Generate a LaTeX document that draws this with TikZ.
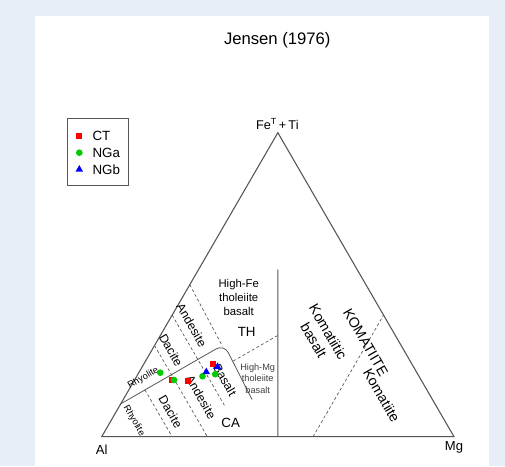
\documentclass[tikz,border=0pt]{standalone}
\usepackage{fontspec}
\setmainfont{Liberation Sans}
\usetikzlibrary{shapes.geometric}
\usepackage{xcolor}

\definecolor{panelblue}{HTML}{E8EEF8}
\definecolor{ptgreen}{HTML}{00CC00}
\definecolor{linegray}{HTML}{555555}

\tikzset{
  edge/.style={draw=linegray, line width=0.8pt},
  divide/.style={draw=linegray, line width=0.5pt, dash pattern=on 2.2pt off 1.8pt},
  field/.style={inner sep=0pt, align=center, font=\fontsize{9.2}{10}\selectfont},
  smallfield/.style={inner sep=0pt, align=center, font=\fontsize{7}{8}\selectfont},
  ctmark/.style={rectangle, fill=red, minimum size=4.6pt, inner sep=0pt},
  ngamark/.style={circle, fill=ptgreen, minimum size=5pt, inner sep=0pt},
  ngbmark/.style={regular polygon, regular polygon sides=3, fill=blue, minimum size=6.6pt, inner sep=0pt}
}

\begin{document}
\begin{tikzpicture}[x=0.75pt, y=-0.75pt]
    % Background and panel
    \useasboundingbox (0,0) rectangle (505,466);
    \fill[panelblue] (0,0) rectangle (505,466);
    \fill[white] (35,16) rectangle (489,466);

    % Title
    \node[font=\fontsize{12.5}{14}\selectfont] (title) at (277.3,40) {Jensen (1976)};

    % Corners of the ternary
    \coordinate (Al) at (101.7,436.7);
    \coordinate (Mg) at (454,436.7);
    \coordinate (Fe) at (277.85,132.7);
    \draw[edge, line join=miter] (Al) -- (Fe) -- (Mg) -- cycle;

    \node[font=\fontsize{9.5}{11}\selectfont, anchor=base] (feLab) at (277.3,129.5) {Fe\textsuperscript{T}\,+\,Ti};
    \node[font=\fontsize{9.8}{11}\selectfont] (alLab) at (101.7,449.3) {Al};
    \node[font=\fontsize{9.8}{11}\selectfont] (mgLab) at (454,447.7) {Mg};

    % CA / TH boundary
    \coordinate (caL) at (120,404.3);
    \coordinate (caP) at (224.1,344.3);
    \coordinate (caR) at (252,399.5);
    \draw[edge, line width=0.6pt, rounded corners=7pt] (caL) -- (caP) -- (caR);

    % Komatiite divide (Al = Mg)
    \coordinate (kbBot) at (barycentric cs:Al=0.5,Mg=0.5);
    \coordinate (kbTop) at (barycentric cs:Al=0.225,Fe=0.55,Mg=0.225);
    \draw[edge, line width=0.6pt] (kbBot) -- (kbTop);

    % Dashed field lines
    \coordinate (al80) at (144.9,389.9);
    \coordinate (al50) at (222.5,346.3);
    \coordinate (femg) at (233.3,361);
    \draw[divide] (al80) -- (barycentric cs:Al=0.8,Mg=0.2);
    \draw[divide] (barycentric cs:Al=0.7,Fe=0.3) -- (barycentric cs:Al=0.7,Mg=0.3);
    \draw[divide] (barycentric cs:Al=0.6,Fe=0.4) -- (barycentric cs:Al=0.6,Fe=0.1,Mg=0.3);
    \draw[divide] (barycentric cs:Al=0.5,Fe=0.5) -- (al50);
    \draw[divide] (femg) -- (barycentric cs:Al=1,Fe=1,Mg=1);
    \draw[divide] (barycentric cs:Al=0.4,Mg=0.6) -- (barycentric cs:Fe=0.4,Mg=0.6);

    % Field names
    \node[field, font=\fontsize{8.5}{10.6}\selectfont] (hft) at (238.7,297.5) {High-Fe\\tholeiite\\basalt};
    \node[field, font=\fontsize{10}{11}\selectfont] (th) at (246.7,332.3) {TH};
    \node[field, font=\fontsize{10}{11}\selectfont] (ca) at (230.7,422.7) {CA};
    \node[field, font=\fontsize{6.9}{8.6}\selectfont, text=black!75] (hmt) at (257.7,378.3) {High-Mg\\tholeiite\\basalt};
    \node[smallfield, rotate=30] (thRhy) at (143.3,378.3) {Rhyolite};
    \node[field, rotate=-60] (thDac) at (171,350) {Dacite};
    \node[field, rotate=-60] (thAnd) at (191.7,325.3) {Andesite};
    \node[smallfield, rotate=-60] (caRhy) at (134,420.7) {Rhyolite};
    \node[field, rotate=-60] (caDac) at (170.7,411.7) {Dacite};
    \node[field, rotate=-60] (caAnd) at (201,397.3) {Andesite};
    \node[field, rotate=-60] (caBas) at (225,380) {Basalt};
    \node[field, rotate=-60, font=\fontsize{10.6}{12.5}\selectfont] (kbas) at (321,336) {Komatiitic\\basalt};
    \node[field, rotate=-60, font=\fontsize{10.6}{12}\selectfont] (komU) at (365.7,342.3) {KOMATIITE};
    \node[field, rotate=-60, font=\fontsize{10.6}{12}\selectfont] (komL) at (381.7,395.7) {Komatiite};

    % Samples
    \foreach \x/\y [count=\i] in {171.7/380, 187.7/381, 212.7/364.3}
        \node[ctmark] (ct\i) at (\x,\y) {};
    \foreach \x/\y [count=\i] in {160.3/372.7, 174/380, 202.5/376.2, 215.2/374.2}
        \node[ngamark] (nga\i) at (\x,\y) {};
    \foreach \x/\y [count=\i] in {206.3/372, 217.5/366.8}
        \node[ngbmark] (ngb\i) at (\x,\y) {};

    % Legend
    \draw[draw=linegray, line width=0.6pt] (67.3,118.3) rectangle (128,185.7);
    \node[ctmark] (keyCT) at (79.3,135.7) {};
    \node[ngamark] (keyNGa) at (79.3,152.7) {};
    \node[ngbmark] (keyNGb) at (79.3,169.5) {};
    \node[anchor=west, inner sep=0pt, font=\fontsize{10}{12}\selectfont] (txtCT) at (92.3,135.7) {CT};
    \node[anchor=west, inner sep=0pt, font=\fontsize{10}{12}\selectfont] (txtNGa) at (92.3,152.7) {NGa};
    \node[anchor=west, inner sep=0pt, font=\fontsize{10}{12}\selectfont] (txtNGb) at (92.3,170) {NGb};
\end{tikzpicture}
\end{document}
